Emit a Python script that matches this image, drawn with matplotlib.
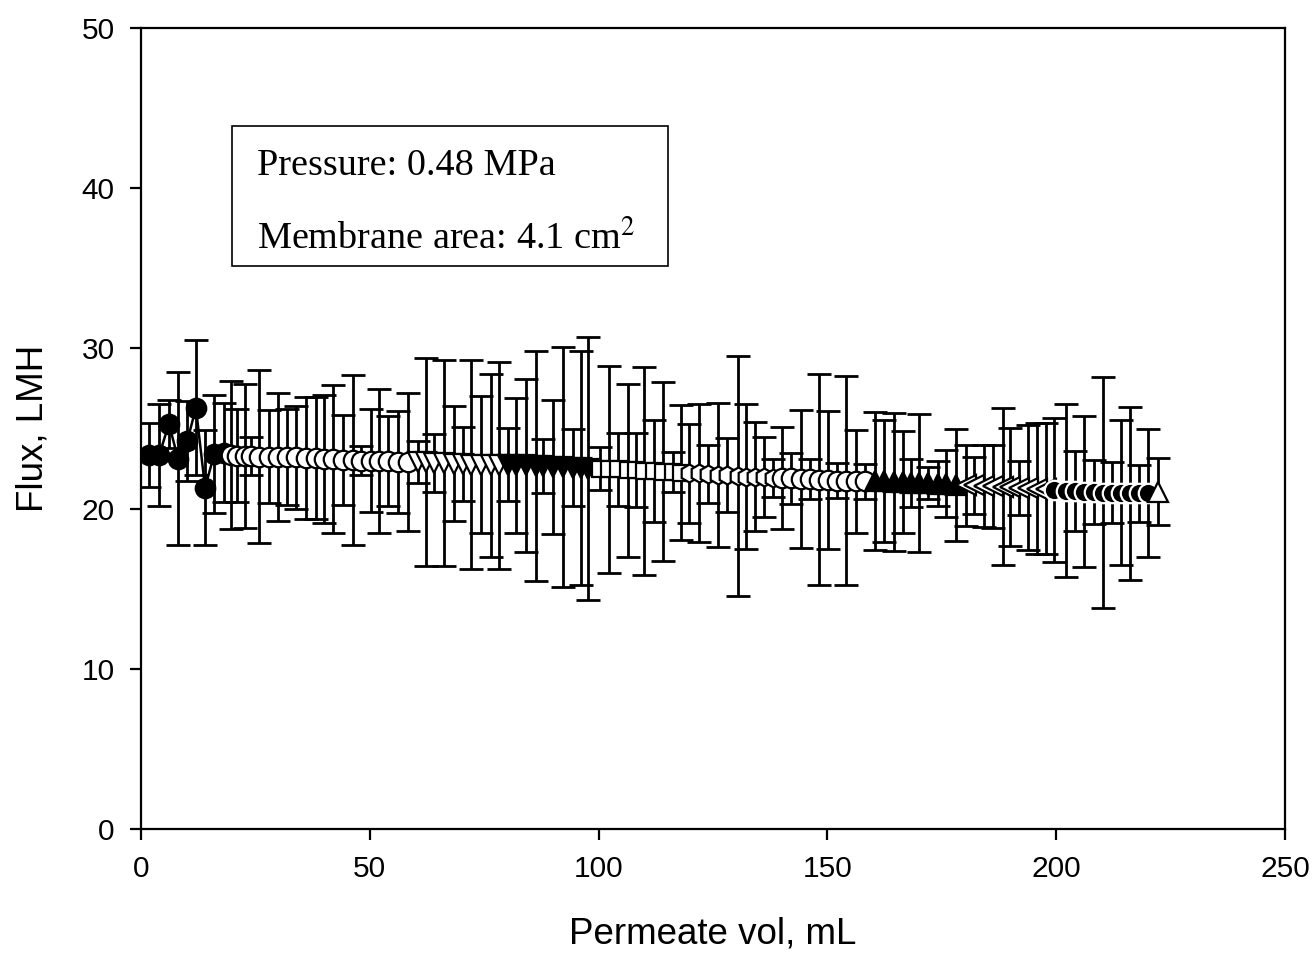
import matplotlib
matplotlib.use("Agg")
import matplotlib.pyplot as plt
from matplotlib.patches import Rectangle

plt.rcParams["font.family"] = ["Liberation Sans", "DejaVu Sans"]
plt.rcParams["mathtext.fontset"] = "stix"

# --- data: permeate volume (mL), flux (LMH), std dev, one list per run ---
x1 = [1.8, 4.0, 6.1, 8.1, 10.1, 12.0, 14.0, 16.0, 18.1]
y1 = [23.35, 23.35, 25.3, 23.1, 24.2, 26.3, 21.3, 23.4, 23.5]
e1 = [2.0, 3.2, 1.5, 5.4, 2.5, 4.2, 3.6, 3.7, 3.1]

x2 = [19.7, 20.9, 22.7, 24.0, 25.8, 28.0, 30.0, 32.0, 33.9, 36.1, 38.2]
y2 = [23.35, 23.3, 23.3, 23.3, 23.25, 23.25, 23.2, 23.2, 23.2, 23.15, 23.15]
e2 = [4.6, 2.9, 4.5, 1.2, 5.4, 2.9, 4.0, 3.0, 3.2, 3.8, 3.8]

x3 = [40.1, 41.9, 44.1, 46.3, 48.1, 50.3, 52.1, 53.9, 56.1, 58.3]
y3 = [23.1, 23.1, 23.05, 23.05, 23.0, 23.0, 22.95, 22.95, 22.9, 22.9]
e3 = [4.0, 4.6, 2.8, 5.3, 0.9, 3.2, 4.5, 2.8, 3.2, 4.3]

x4 = [60.5, 62.3, 64.1, 66.3, 68.5, 70.3, 72.1, 74.3, 76.5, 78.3]
y4 = [22.9, 22.9, 22.85, 22.85, 22.8, 22.8, 22.75, 22.75, 22.7, 22.7]
e4 = [1.3, 6.5, 1.8, 6.45, 3.6, 2.3, 6.5, 4.3, 5.7, 6.45]

x5 = [80.1, 81.9, 84.1, 86.3, 87.8, 90.0, 92.2, 94.3, 96.2, 97.6]
y5 = [22.75, 22.7, 22.7, 22.65, 22.65, 22.6, 22.6, 22.55, 22.55, 22.5]
e5 = [2.3, 4.2, 5.4, 7.2, 1.7, 4.2, 7.5, 2.4, 7.3, 8.2]

x6 = [100.2, 102.3, 104.2, 106.4, 108.1, 110.0, 112.0, 114.0, 116.2, 118.0]
y6 = [22.5, 22.45, 22.45, 22.4, 22.4, 22.35, 22.35, 22.3, 22.3, 22.25]
e6 = [1.35, 6.45, 2.3, 5.4, 2.3, 6.5, 3.2, 5.6, 1.25, 4.2]

x7 = [119.8, 122.0, 124.0, 126.0, 128.0, 130.4, 132.2, 134.2, 136.1, 138.1]
y7 = [22.2, 22.2, 22.15, 22.1, 22.1, 22.05, 22.0, 22.0, 21.95, 21.9]
e7 = [3.1, 4.3, 1.8, 4.5, 2.3, 7.5, 4.5, 3.4, 2.5, 1.2]

x8 = [140.0, 142.1, 144.2, 146.2, 148.2, 150.2, 152.1, 154.1, 156.2, 158.2]
y8 = [21.9, 21.9, 21.85, 21.85, 21.8, 21.8, 21.75, 21.75, 21.7, 21.7]
e8 = [3.2, 1.6, 4.3, 1.25, 6.6, 4.3, 1.1, 6.5, 3.2, 1.1]

x9 = [160.3, 162.4, 164.6, 166.6, 168.2, 170.1, 172.0, 174.2, 176.0, 178.1]
y9 = [21.7, 21.7, 21.65, 21.65, 21.6, 21.6, 21.6, 21.55, 21.55, 21.5]
e9 = [4.3, 3.8, 4.3, 3.2, 1.5, 4.3, 1.0, 1.4, 2.1, 3.5]

x10 = [180.2, 182.0, 184.2, 186.2, 188.3, 190.0, 191.8, 193.8, 195.8, 197.8]
y10 = [21.45, 21.45, 21.4, 21.4, 21.35, 21.35, 21.3, 21.3, 21.25, 21.25]
e10 = [2.55, 1.8, 2.55, 2.6, 4.9, 3.7, 1.7, 3.9, 4.1, 4.1]

x11 = [199.6, 202.1, 204.0, 206.1, 208.2, 210.2, 212.1, 214.2, 216.2, 218.2, 220.0]
y11 = [21.15, 21.1, 21.1, 21.05, 21.05, 21.0, 21.0, 21.0, 20.95, 20.95, 20.95]
e11 = [4.5, 5.4, 2.5, 4.7, 2.0, 7.2, 1.9, 4.5, 5.4, 1.8, 4.0]

x12 = [222.2]
y12 = [21.05]
e12 = [2.1]

runs = [(x1, y1, e1), (x2, y2, e2), (x3, y3, e3), (x4, y4, e4),
        (x5, y5, e5), (x6, y6, e6), (x7, y7, e7), (x8, y8, e8),
        (x9, y9, e9), (x10, y10, e10), (x11, y11, e11), (x12, y12, e12)]

# SigmaPlot-like symbol cycle: (marker, face, edge, size)
styles = [("o", "black", "black", 14), ("o", "white", "black", 14),
          ("o", "white", "black", 14), ("v", "white", "black", 14),
          ("v", "black", "black", 14), ("s", "white", "black", 12),
          ("h", "white", "black", 13), ("o", "white", "black", 14),
          ("^", "black", "black", 14), ("<", "white", "black", 14),
          ("o", "black", "white", 14), ("^", "white", "black", 14)]

fig = plt.figure(figsize=(13.16, 9.58), dpi=100)
ax = fig.add_axes([141 / 1316, 1 - 829 / 958, 1144 / 1316, 801 / 958])

for xs, ys, es in runs:
    ax.errorbar(xs, ys, yerr=es, fmt="none", ecolor="black", elinewidth=2.0,
                capsize=8.5, capthick=2.0, zorder=2)

for (xs, ys, es), (m, fc, ec, ms) in zip(runs, styles):
    ax.plot(xs, ys, color="black", lw=1.8, marker=m, markersize=ms,
            markerfacecolor=fc, markeredgecolor=ec, markeredgewidth=1.6,
            zorder=3)

ax.set_xlim(0, 250)
ax.set_ylim(0, 50)
ax.set_xticks([0, 50, 100, 150, 200, 250])
ax.set_yticks([0, 10, 20, 30, 40, 50])
ax.tick_params(direction="out", length=8, width=1.6, labelsize=21.5, pad=11)
for sp in ax.spines.values():
    sp.set_linewidth(1.6)

ax.set_xlabel("Permeate vol, mL", fontsize=26.5, labelpad=24)
ax.set_ylabel("Flux, LMH", fontsize=26.5, labelpad=22)

# annotation box
ax.add_patch(Rectangle((0.0795, 0.703), 0.381, 0.1748, transform=ax.transAxes,
                       fill=False, edgecolor="black", lw=1.2, zorder=5))
ax.text(0.1014, 0.828, "Pressure: 0.48 MPa", transform=ax.transAxes,
        fontsize=27.5, family="Liberation Serif", va="center", ha="left")
ax.text(0.1014, 0.737, "Membrane area: 4.1 cm$^{2}$", transform=ax.transAxes,
        fontsize=27.5, family="Liberation Serif", va="center", ha="left")

fig.savefig("out.png", dpi=100)
